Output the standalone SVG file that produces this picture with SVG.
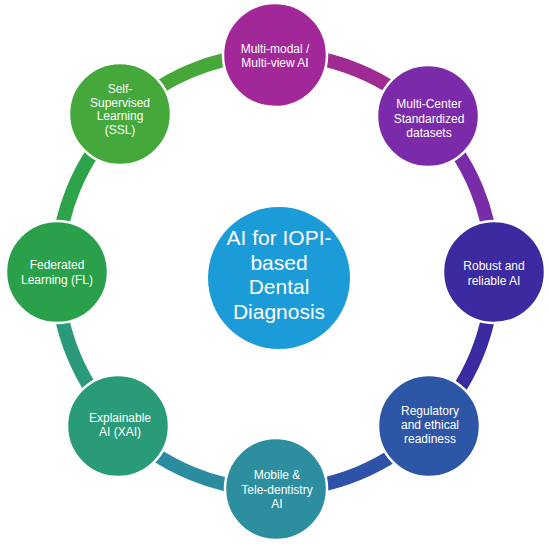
<svg xmlns="http://www.w3.org/2000/svg" width="550" height="545" viewBox="0 0 550 545">
<style>
.arc{fill:none;stroke-width:14}
.node{stroke:#ffffff;stroke-width:2.5}
.lbl{font-family:"Liberation Sans",Arial,sans-serif;font-size:12px;fill:#ffffff;text-anchor:middle}
.ctr{font-family:"Liberation Sans",Arial,sans-serif;font-size:21px;fill:#ffffff;text-anchor:middle}
</style>
<rect width="550" height="545" fill="#ffffff"/>
<g id="connectors">
<path class="arc" stroke="#A02B93" d="M275 54 A218 218 0 0 1 429.15 117.85"/>
<path class="arc" stroke="#7A2CA8" d="M429.15 117.85 A218 218 0 0 1 493 272"/>
<path class="arc" stroke="#3A2BA0" d="M493 272 A218 218 0 0 1 429.15 426.15"/>
<path class="arc" stroke="#2D52A8" d="M429.15 426.15 A218 218 0 0 1 275 490"/>
<path class="arc" stroke="#2B8CA0" d="M275 490 A218 218 0 0 1 120.85 426.15"/>
<path class="arc" stroke="#2A9A7A" d="M120.85 426.15 A218 218 0 0 1 57 272"/>
<path class="arc" stroke="#2EA34A" d="M57 272 A218 218 0 0 1 120.85 117.85"/>
<path class="arc" stroke="#47A83A" d="M120.85 117.85 A218 218 0 0 1 275 54"/>
</g>
<g id="center">
<circle cx="279" cy="278" r="71" fill="#1B9BD7"/>
<text class="ctr" x="279" y="245">AI for IOPI-</text>
<text class="ctr" x="279" y="269.5">based</text>
<text class="ctr" x="279" y="294">Dental</text>
<text class="ctr" x="279" y="318.5">Diagnosis</text>
</g>
<g id="n-multimodal">
<circle class="node" cx="275" cy="55" r="52" fill="#A2289A"/>
<text class="lbl" x="275" y="53">Multi-modal /</text>
<text class="lbl" x="275" y="66.5">Multi-view AI</text>
</g>
<g id="n-multicenter">
<circle class="node" cx="428" cy="116" r="51" fill="#7B2BA9"/>
<text class="lbl" x="429" y="108">Multi-Center</text>
<text class="lbl" x="429" y="122.5">Standardized</text>
<text class="lbl" x="429" y="137">datasets</text>
</g>
<g id="n-robust">
<circle class="node" cx="494" cy="272" r="51" fill="#3B2AA0"/>
<text class="lbl" x="494" y="270">Robust and</text>
<text class="lbl" x="494" y="285">reliable AI</text>
</g>
<g id="n-regulatory">
<circle class="node" cx="429" cy="426" r="51" fill="#2D56A6"/>
<text class="lbl" x="430" y="415">Regulatory</text>
<text class="lbl" x="430" y="429">and ethical</text>
<text class="lbl" x="430" y="443">readiness</text>
</g>
<g id="n-mobile">
<circle class="node" cx="276" cy="489" r="51" fill="#2D8E9F"/>
<text class="lbl" x="277" y="479">Mobile &amp;</text>
<text class="lbl" x="277" y="493.5">Tele-dentistry</text>
<text class="lbl" x="277" y="507.5">AI</text>
</g>
<g id="n-explainable">
<circle class="node" cx="118" cy="426" r="51" fill="#2A9B78"/>
<text class="lbl" x="120" y="422">Explainable</text>
<text class="lbl" x="120" y="436">AI (XAI)</text>
</g>
<g id="n-federated">
<circle class="node" cx="57" cy="272" r="51" fill="#2AA04A"/>
<text class="lbl" x="57" y="269">Federated</text>
<text class="lbl" x="57" y="283.5">Learning (FL)</text>
</g>
<g id="n-ssl">
<circle class="node" cx="120" cy="114" r="51" fill="#45A83A"/>
<text class="lbl" x="120" y="93">Self-</text>
<text class="lbl" x="120" y="106.5">Supervised</text>
<text class="lbl" x="120" y="120">Learning</text>
<text class="lbl" x="120" y="133.5">(SSL)</text>
</g>
</svg>
